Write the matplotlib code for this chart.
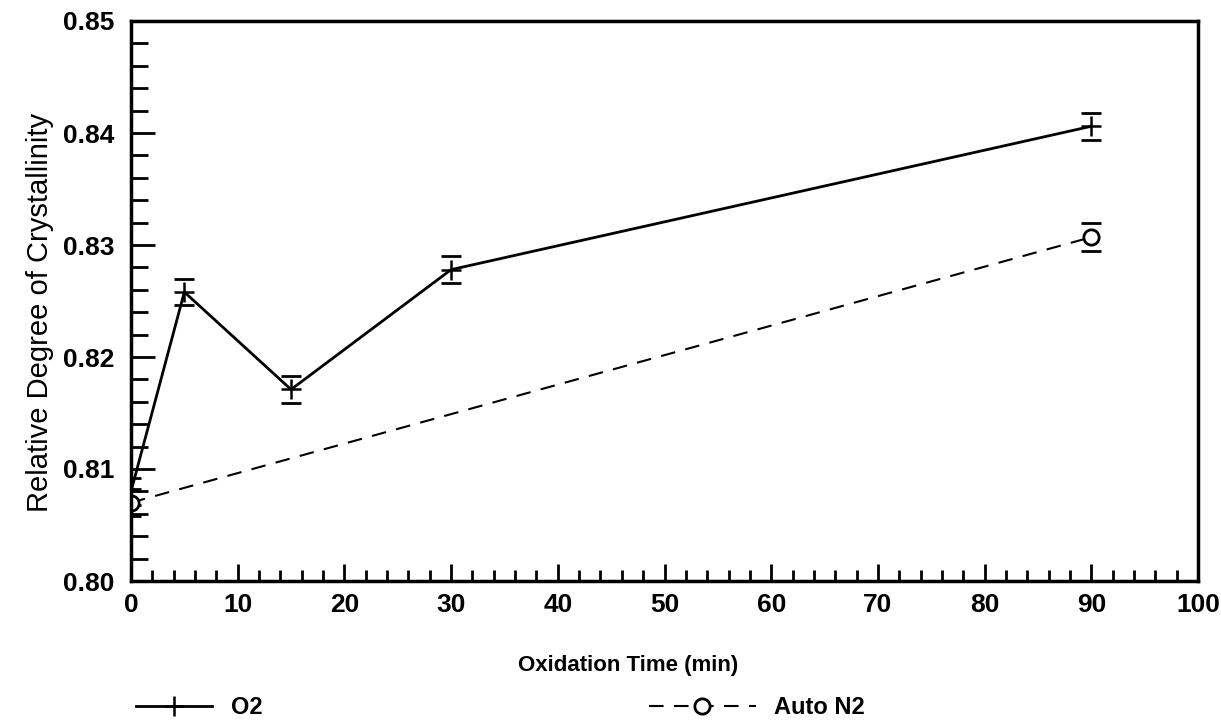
import numpy as np
import matplotlib.pyplot as plt
from matplotlib.ticker import MultipleLocator

# Data
time_o2 = [0, 5, 15, 30, 90]
cryst_o2 = [0.808, 0.8258, 0.8171, 0.8278, 0.8406]
err_o2 = [0.0012, 0.0012, 0.0012, 0.0012, 0.0012]

time_n2 = [0, 90]
cryst_n2 = [0.807, 0.8307]
err_n2 = [0.0012, 0.00125]

x_ticks = [0, 10, 20, 30, 40, 50, 60, 70, 80, 90, 100]
y_ticks = [0.80, 0.81, 0.82, 0.83, 0.84, 0.85]

plt.rcParams['font.family'] = ['Liberation Sans', 'DejaVu Sans']

fig = plt.figure(figsize=(12.21, 7.23), dpi=100)
ax = fig.add_axes([131 / 1221, 1 - 581 / 723, (1198 - 131) / 1221, (581 - 21) / 723])

# O2 series: solid line, plus markers, caps only
line_o2, = ax.plot(time_o2, cryst_o2, color='black', lw=2, marker='+',
                   ms=14, mew=1.8, label='O2')
ax.errorbar(time_o2, cryst_o2, yerr=err_o2, fmt='none', ecolor='black',
            elinewidth=0, capsize=7, capthick=2)

# Auto N2 series: dashed line, open circles
line_n2, = ax.plot(time_n2, cryst_n2, color='black', lw=1.5, marker='o',
                   ms=11, mfc='white', mew=2, dashes=(7, 5), label='Auto N2')
ax.errorbar(time_n2, cryst_n2, yerr=err_n2, fmt='none', ecolor='black',
            elinewidth=0, capsize=7, capthick=2)

ax.set_xlim(0, 100)
ax.set_ylim(0.80, 0.85)
ax.set_xticks(x_ticks)
ax.set_yticks(y_ticks)
ax.set_xticklabels([str(t) for t in x_ticks])
ax.set_yticklabels(['%.2f' % t for t in y_ticks])
ax.xaxis.set_minor_locator(MultipleLocator(2))
ax.yaxis.set_minor_locator(MultipleLocator(0.002))

ax.tick_params(which='both', direction='in', top=False, right=False, width=2)
ax.tick_params(which='major', axis='y', length=17)
ax.tick_params(which='minor', axis='y', length=12)
ax.tick_params(which='major', axis='x', length=12)
ax.tick_params(which='minor', axis='x', length=8)
ax.tick_params(which='major', labelsize=19)
ax.tick_params(axis='y', pad=12)
ax.tick_params(axis='x', pad=9)
for lab in ax.get_xticklabels() + ax.get_yticklabels():
    lab.set_fontweight('bold')

for sp in ax.spines.values():
    sp.set_linewidth(2.5)

fig.text(628 / 1221, 1 - 665 / 723, 'Oxidation Time (min)', ha='center',
         va='center', fontsize=16, fontweight='bold')
fig.text(40 / 1221, 1 - 312 / 723, 'Relative Degree of Crystallinity',
         ha='center', va='center', rotation=90, fontsize=21)

# legends below the plot
leg1 = fig.legend(handles=[line_o2], loc='center left',
                  bbox_to_anchor=(115 / 1221, 1 - 708 / 723), frameon=False,
                  prop={'size': 17, 'weight': 'bold'}, handlelength=3.2)
leg2 = fig.legend(handles=[line_n2], loc='center left',
                  bbox_to_anchor=(628 / 1221, 1 - 708 / 723), frameon=False,
                  prop={'size': 17, 'weight': 'bold'}, handlelength=4.5)

plt.savefig('out.png', dpi=100)
